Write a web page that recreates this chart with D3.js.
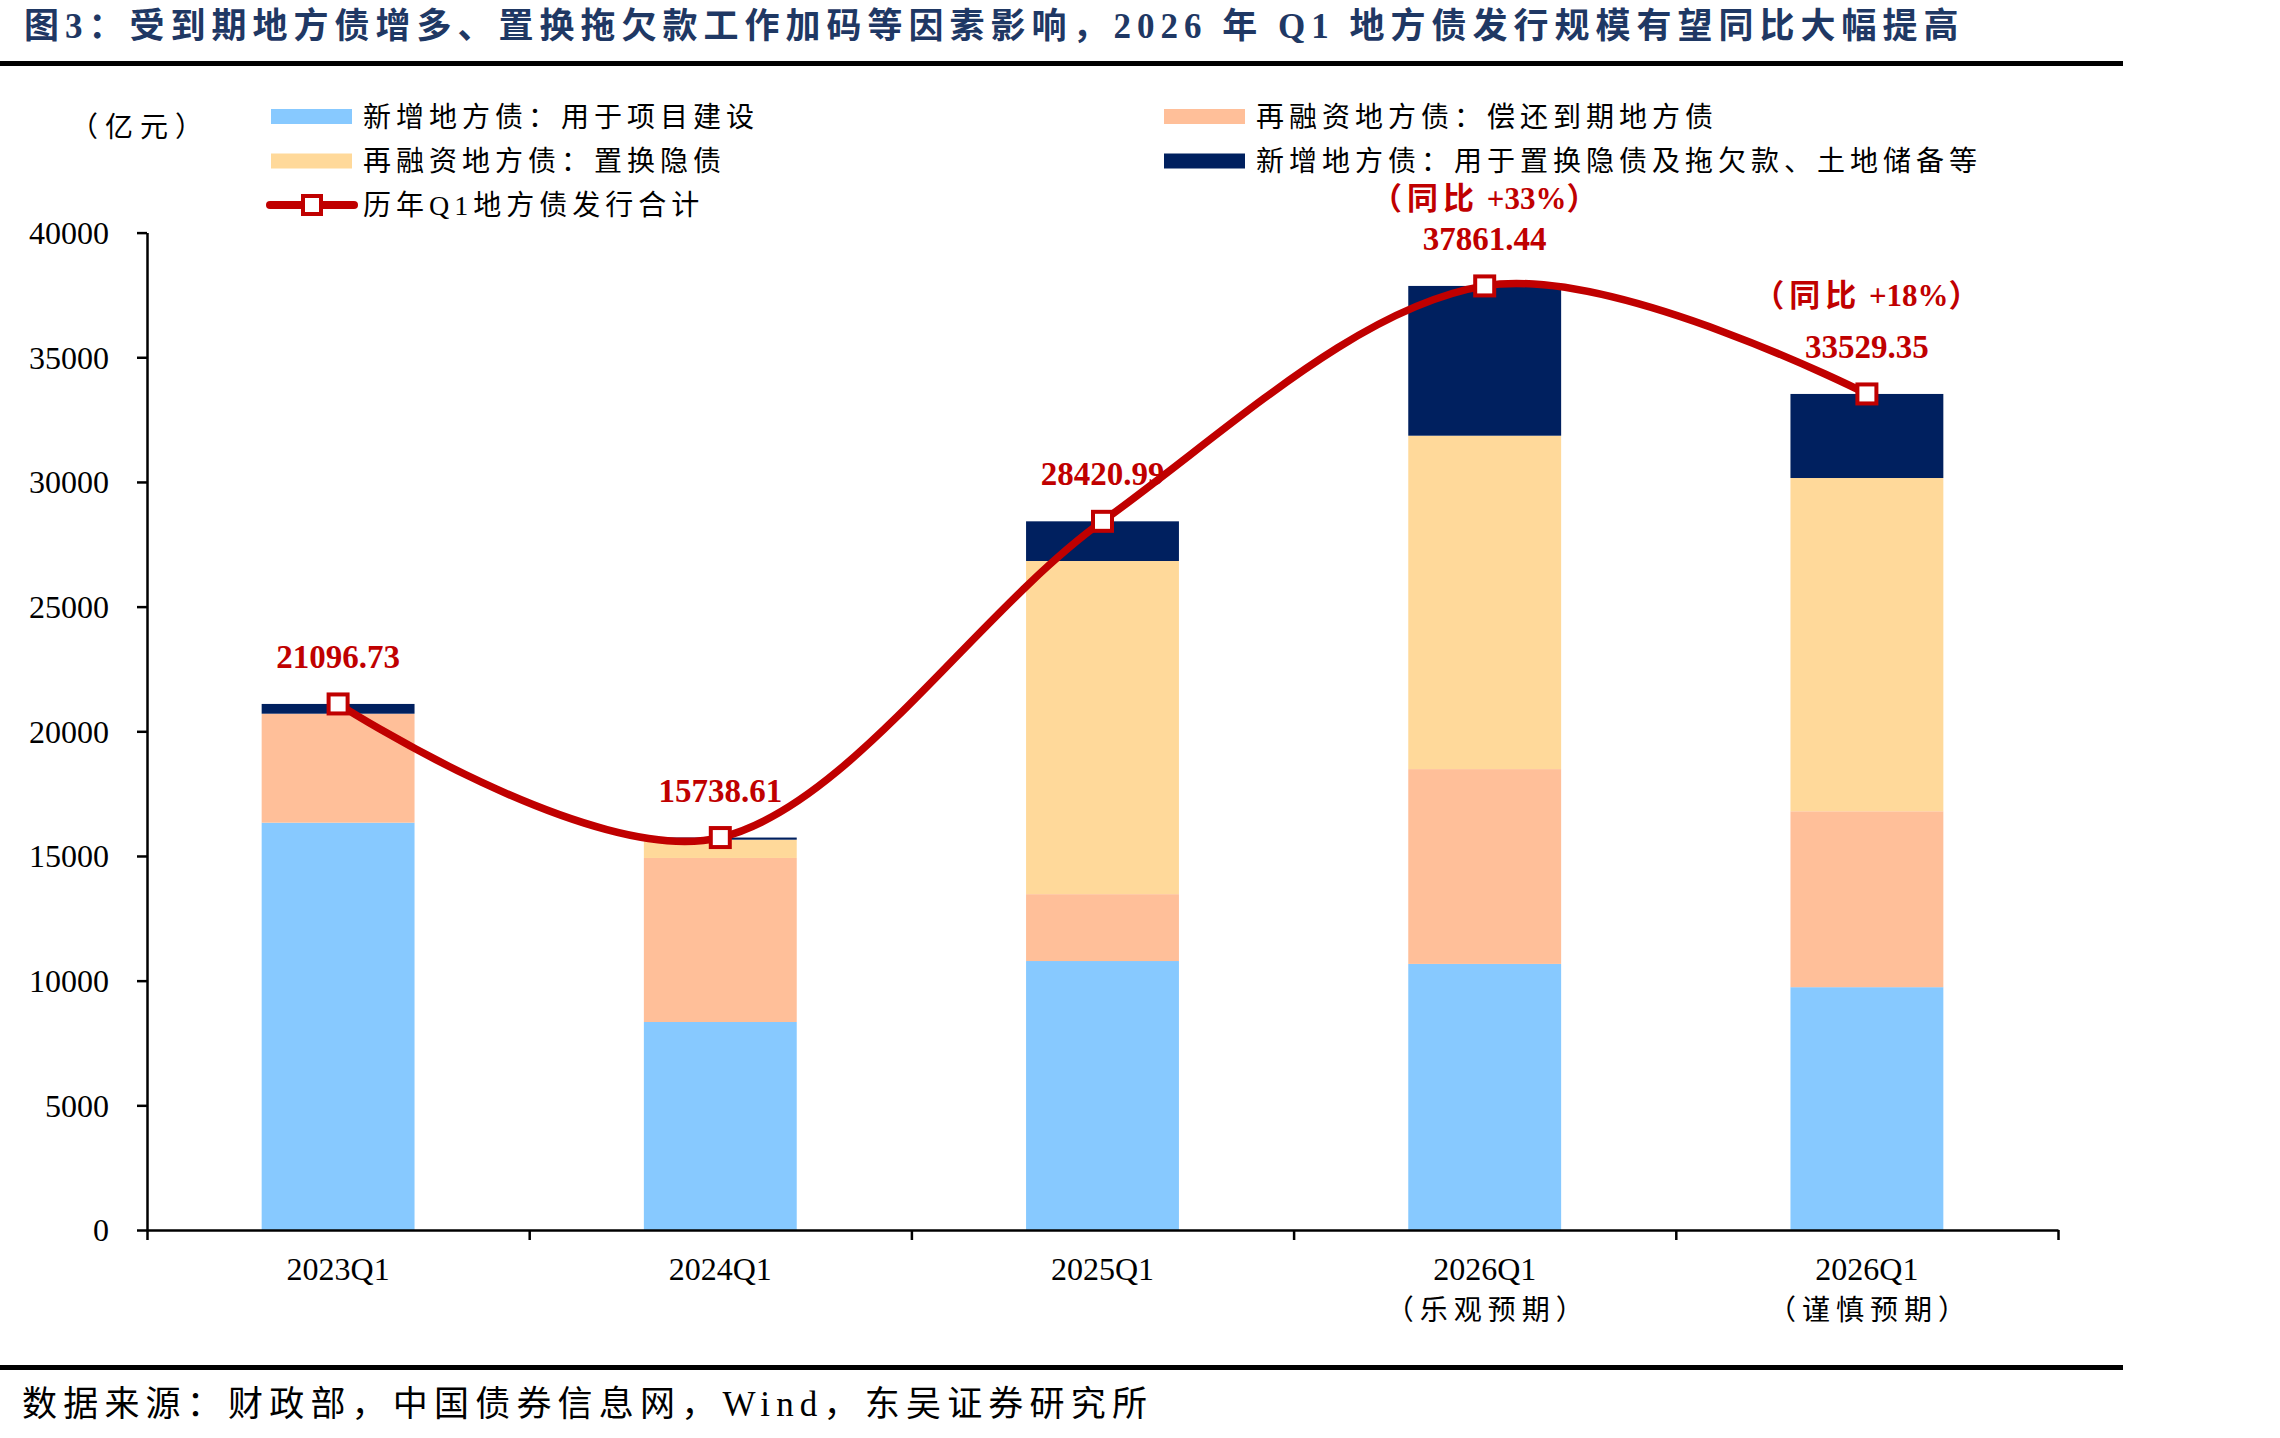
<!DOCTYPE html>
<html>
<head>
<meta charset="utf-8">
<script src="https://cdn.jsdelivr.net/npm/d3@7"></script>
<style>
  body { margin: 0; background: #fff; }
  .chart text { font-family: 'Liberation Serif', 'Times New Roman', 'Noto Sans CJK SC', serif; }
  .axis path, .axis line { stroke: #000; stroke-width: 2.5; }
</style>
</head>
<body>
<div id="chart" class="chart"></div>
<script>
// categories and sub labels
var categories = ["2023Q1", "2024Q1", "2025Q1", "2026Q1", "2026Q1"];
var subLabels = ["", "", "", "（乐观预期）", "（谨慎预期）"];

// stacked series (亿元), bottom to top
var newProject = [16335, 8342, 10787, 10671, 9738];     // 新增地方债：用于项目建设
var refiMaturity = [4371, 6578, 2682, 7813, 7055];      // 再融资地方债：偿还到期地方债
var refiHidden = [0, 733, 13361, 13371, 13365];         // 再融资地方债：置换隐债
var newHidden = [391, 86, 1591, 6006, 3371];            // 新增地方债：用于置换隐债及拖欠款、土地储备等

// line: 历年Q1地方债发行合计
var totals = [21096.73, 15738.61, 28420.99, 37861.44, 33529.35];
var yoyLabels = ["", "", "", "（同比 +33%）", "（同比 +18%）"];

var yTicks = [0, 5000, 10000, 15000, 20000, 25000, 30000, 35000, 40000];

var seriesNames = {
  newProject: "新增地方债：用于项目建设",
  refiMaturity: "再融资地方债：偿还到期地方债",
  refiHidden: "再融资地方债：置换隐债",
  newHidden: "新增地方债：用于置换隐债及拖欠款、土地储备等"
};
var colors = {
  newProject: "#87C9FF",
  refiMaturity: "#FFBF99",
  refiHidden: "#FFD99A",
  newHidden: "#00205F"
};
var red = "#C00000";

var W = 2280, H = 1438;
var margin = {left: 147, top: 232.6, right: 222, bottom: 208};
var width = W - margin.left - margin.right;
var height = H - margin.top - margin.bottom;

var svg = d3.select("#chart").append("svg")
  .attr("width", W)
  .attr("height", H);

// title + rules + source
svg.append("text")
  .attr("x", 24).attr("y", 38)
  .attr("fill", "#1F3864")
  .style("font-size", "35px").style("font-weight", "bold").style("letter-spacing", "6px")
  .text("图3：受到期地方债增多、置换拖欠款工作加码等因素影响，2026 年 Q1 地方债发行规模有望同比大幅提高");

svg.append("rect").attr("x", 0).attr("y", 61).attr("width", 2123).attr("height", 5).attr("fill", "#000");
svg.append("rect").attr("x", 0).attr("y", 1365).attr("width", 2123).attr("height", 5).attr("fill", "#000");

svg.append("text")
  .attr("x", 22).attr("y", 1416)
  .style("font-size", "35px").style("letter-spacing", "6.2px")
  .text("数据来源：财政部，中国债券信息网，Wind，东吴证券研究所");

// unit
svg.append("text")
  .attr("x", 70).attr("y", 137)
  .style("font-size", "28px").style("letter-spacing", "7px")
  .text("（亿元）");

// data table
var keys = ["newProject", "refiMaturity", "refiHidden", "newHidden"];
var table = categories.map(function(c, i) {
  return {i: i, newProject: newProject[i], refiMaturity: refiMaturity[i], refiHidden: refiHidden[i], newHidden: newHidden[i]};
});
var stack = d3.stack().keys(keys)(table);

var g = svg.append("g").attr("transform", "translate(" + margin.left + "," + margin.top + ")");

var x = d3.scaleBand().domain(d3.range(categories.length)).range([0, width]).paddingInner(0.6).paddingOuter(0.3);
var xEdge = d3.scaleLinear().domain([0, categories.length]).range([0, width]);
var y = d3.scaleLinear().domain([0, 40000]).range([height, 0]);

// bars
g.selectAll(".layer")
  .data(stack)
  .enter().append("g")
  .attr("class", "layer")
  .attr("fill", function(d) { return colors[d.key]; })
  .selectAll("rect")
  .data(function(d) { return d; })
  .enter().append("rect")
  .attr("x", function(d) { return x(d.data.i); })
  .attr("width", x.bandwidth())
  .attr("y", function(d) { return y(d[1]); })
  .attr("height", function(d) { return Math.max(0, y(d[0]) - y(d[1])); });

// y axis
g.append("g")
  .attr("class", "axis")
  .call(d3.axisLeft(y).tickValues(yTicks).tickFormat(d3.format("d")).tickSize(10).tickSizeOuter(0).tickPadding(28))
  .selectAll("text")
  .style("font-size", "32px")
  .attr("fill", "#000")
  .attr("dy", "0.34em");

// x axis, ticks on band edges
g.append("g")
  .attr("class", "axis")
  .attr("transform", "translate(0," + height + ")")
  .call(d3.axisBottom(xEdge).tickValues(d3.range(categories.length + 1)).tickSize(10).tickSizeOuter(0).tickFormat(""));

// category labels
var cx = function(i) { return x(i) + x.bandwidth() / 2; };
g.selectAll(".cat")
  .data(categories)
  .enter().append("text")
  .attr("class", "cat")
  .attr("x", function(d, i) { return cx(i); })
  .attr("y", height + 50)
  .attr("text-anchor", "middle")
  .style("font-size", "32px")
  .text(function(d) { return d; });

g.selectAll(".sub")
  .data(subLabels)
  .enter().append("text")
  .attr("class", "sub")
  .attr("x", function(d, i) { return cx(i) + 3; })
  .attr("y", height + 90)
  .attr("text-anchor", "middle")
  .style("font-size", "28px").style("letter-spacing", "6px")
  .text(function(d) { return d; });

// total line
var line = d3.line()
  .x(function(d, i) { return cx(i); })
  .y(function(d) { return y(d); })
  .curve(d3.curveCardinal.tension(0));

g.append("path")
  .datum(totals)
  .attr("fill", "none")
  .attr("stroke", red)
  .attr("stroke-width", 7.5)
  .attr("d", line);

g.selectAll(".marker")
  .data(totals)
  .enter().append("rect")
  .attr("class", "marker")
  .attr("x", function(d, i) { return cx(i) - 9.5; })
  .attr("y", function(d) { return y(d) - 9.5; })
  .attr("width", 19).attr("height", 19)
  .attr("fill", "#fff")
  .attr("stroke", red)
  .attr("stroke-width", 4);

g.selectAll(".val")
  .data(totals)
  .enter().append("text")
  .attr("class", "val")
  .attr("x", function(d, i) { return cx(i); })
  .attr("y", function(d) { return y(d) - 36; })
  .attr("text-anchor", "middle")
  .attr("fill", red)
  .style("font-size", "33px").style("font-weight", "bold")
  .text(function(d) { return d.toFixed(2); });

// yoy labels: spacing only on the CJK runs, latin part kept tight
var yoyDy = [0, 0, 0, -77, -88];
g.selectAll(".yoy")
  .data(yoyLabels)
  .enter().append("text")
  .attr("class", "yoy")
  .attr("x", function(d, i) { return cx(i) + 2; })
  .attr("y", function(d, i) { return y(totals[i]) + yoyDy[i]; })
  .attr("text-anchor", "middle")
  .attr("fill", red)
  .style("font-size", "31px").style("font-weight", "bold")
  .each(function(d) {
    var parts = d.match(/[\x20-\x7e]+|[^\x20-\x7e]+/g) || [];
    var t = d3.select(this);
    parts.forEach(function(p) {
      t.append("tspan")
        .style("letter-spacing", /[\x20-\x7e]/.test(p) ? "0px" : "5px")
        .text(p);
    });
  });

// legend
var legendItems = [
  {key: "newProject", x: 271, y: 116.5},
  {key: "refiHidden", x: 271, y: 161},
  {key: "refiMaturity", x: 1164, y: 116.5},
  {key: "newHidden", x: 1164, y: 161}
];
var lg = svg.append("g");
legendItems.forEach(function(it) {
  lg.append("rect")
    .attr("x", it.x).attr("y", it.y - 7.5)
    .attr("width", 81).attr("height", 15)
    .attr("fill", colors[it.key]);
  lg.append("text")
    .attr("x", it.x + 92).attr("y", it.y + 10)
    .style("font-size", "28px").style("letter-spacing", "5px")
    .text(seriesNames[it.key]);
});
lg.append("line")
  .attr("x1", 270).attr("x2", 354).attr("y1", 205).attr("y2", 205)
  .attr("stroke", red).attr("stroke-width", 8).attr("stroke-linecap", "round");
lg.append("rect")
  .attr("x", 303).attr("y", 196).attr("width", 18).attr("height", 18)
  .attr("fill", "#fff").attr("stroke", red).attr("stroke-width", 4);
lg.append("text")
  .attr("x", 363).attr("y", 215)
  .style("font-size", "28px").style("letter-spacing", "5px")
  .text("历年Q1地方债发行合计");
</script>
</body>
</html>
